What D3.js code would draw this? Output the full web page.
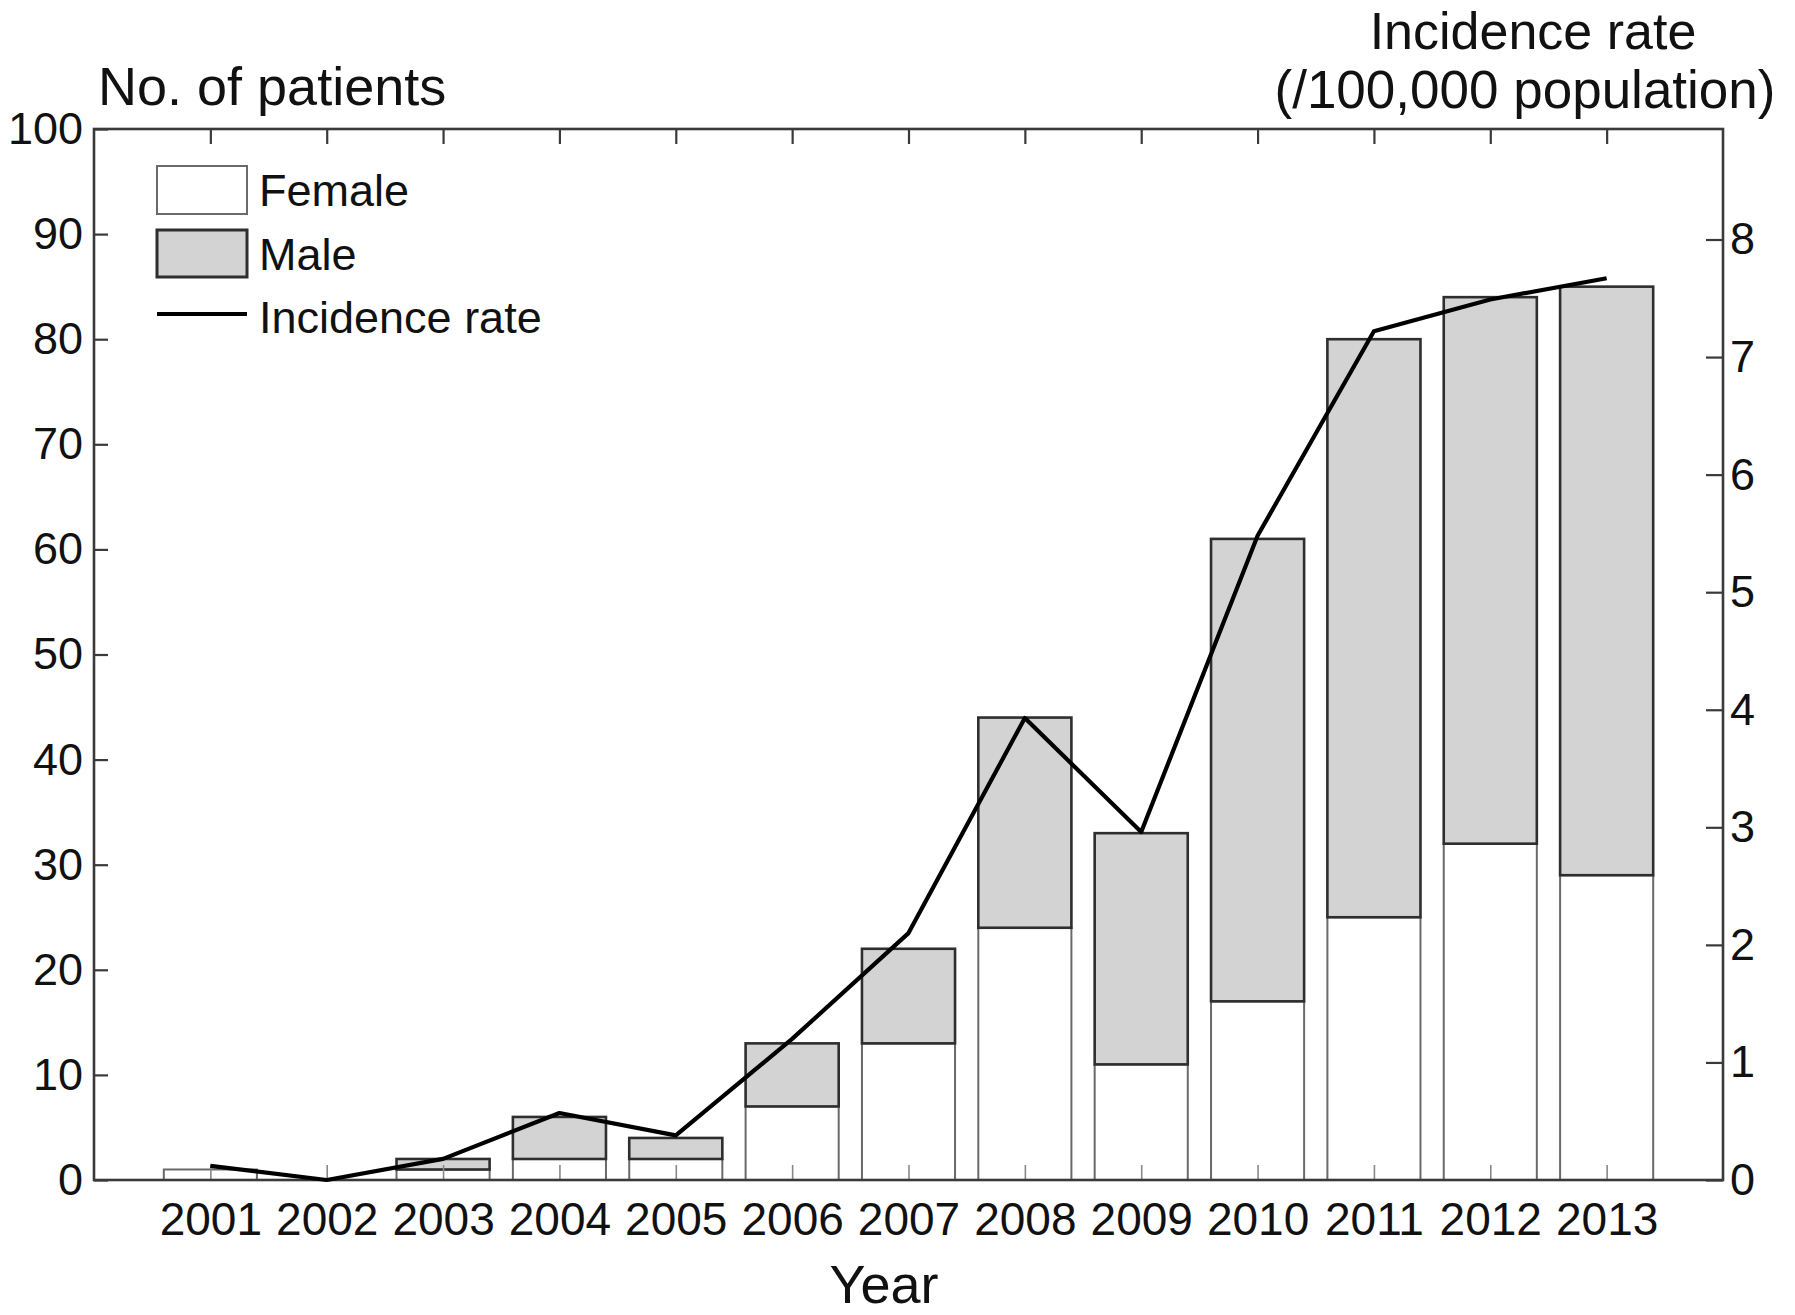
<!DOCTYPE html>
<html>
<head>
<meta charset="utf-8">
<script src="https://cdn.jsdelivr.net/npm/d3@7"></script>
<style>
  html, body { margin: 0; padding: 0; background: #fff; }
  svg { display: block; }
  text { font-family: "Liberation Sans", Arial, Helvetica, sans-serif; fill: #111; }
</style>
</head>
<body>
<svg id="chart" width="1795" height="1315"></svg>
<script>
// ---- data ----
const years = ["2001","2002","2003","2004","2005","2006","2007","2008","2009","2010","2011","2012","2013"];
const female = [1, 0, 1, 2, 2, 7, 13, 24, 11, 17, 25, 32, 29];
const male   = [0, 0, 1, 4, 2, 6, 9, 20, 22, 44, 55, 52, 56];
const incidence = [0.12, 0, 0.18, 0.57, 0.38, 1.2, 2.1, 3.93, 2.96, 5.48, 7.22, 7.49, 7.67];
const leftTicks = [0, 10, 20, 30, 40, 50, 60, 70, 80, 90, 100];
const rightTicks = [0, 1, 2, 3, 4, 5, 6, 7, 8];
const legendItems = ["Female", "Male", "Incidence rate"];

// ---- layout ----
const L = 94, R = 1723, T = 129, B = 1180;
const svg = d3.select("#chart");

const x = d3.scalePoint().domain(years).range([L, R]).padding(1);
const yL = d3.scaleLinear().domain([0, 100]).range([B, T]);
const yR = d3.scaleLinear().domain([0, 8.94]).range([B, T]);
const bw = x.step() * 0.8;

const rows = years.map((y, i) => ({ year: y, f: female[i], m: male[i], r: incidence[i] }));

// ---- bars ----
const bars = svg.append("g");
bars.selectAll("rect.female").data(rows).join("rect")
  .attr("class", "female")
  .attr("x", d => x(d.year) - bw / 2)
  .attr("width", bw)
  .attr("y", d => yL(d.f))
  .attr("height", d => yL(0) - yL(d.f))
  .attr("fill", "#ffffff")
  .attr("stroke", "#6a6a6a")
  .attr("stroke-width", 2);

bars.selectAll("rect.male").data(rows.filter(d => d.m > 0)).join("rect")
  .attr("class", "male")
  .attr("x", d => x(d.year) - bw / 2)
  .attr("width", bw)
  .attr("y", d => yL(d.f + d.m))
  .attr("height", d => yL(d.f) - yL(d.f + d.m))
  .attr("fill", "#d3d3d3")
  .attr("stroke", "#2e2e2e")
  .attr("stroke-width", 2.6);

// ---- axes frame ----
const axisColor = "#3a3a3a";
const leftAxis = d3.axisLeft(yL).tickValues(leftTicks).tickSize(-14).tickPadding(11).tickFormat(d3.format("d"));
const gl = svg.append("g").attr("transform", `translate(${L},0)`).call(leftAxis);

const rightAxis = d3.axisRight(yR).tickValues(rightTicks).tickSize(-17).tickPadding(7).tickFormat(d3.format("d"));
const gr = svg.append("g").attr("transform", `translate(${R},0)`).call(rightAxis);

const bottomAxis = d3.axisBottom(x).tickSize(-15).tickPadding(22);
const gb = svg.append("g").attr("transform", `translate(0,${B})`).call(bottomAxis);

const topAxis = d3.axisTop(x).tickSize(-15).tickFormat("");
const gt = svg.append("g").attr("transform", `translate(0,${T})`).call(topAxis);

[gl, gr, gb, gt].forEach(g => {
  g.select(".domain").remove();
  g.selectAll(".tick line").attr("stroke", axisColor).attr("stroke-width", 2.2);
  g.selectAll(".tick text").attr("font-size", 45).attr("fill", "#111")
    .attr("font-family", "'Liberation Sans', Arial, sans-serif");
});
gb.selectAll(".tick line").attr("stroke", "#888").attr("stroke-width", 1.6);
gb.selectAll(".tick text").attr("font-size", 46).attr("dy", "0.71em");

svg.append("rect")
  .attr("x", L).attr("y", T).attr("width", R - L).attr("height", B - T)
  .attr("fill", "none").attr("stroke", axisColor).attr("stroke-width", 2.6);

// ---- incidence line ----
const line = d3.line().x(d => x(d.year)).y(d => yR(d.r));
svg.append("path").datum(rows)
  .attr("d", line)
  .attr("fill", "none")
  .attr("stroke", "#000")
  .attr("stroke-width", 4.2)
  .attr("stroke-linejoin", "round");

// ---- titles ----
svg.append("text").attr("x", 98).attr("y", 105).attr("font-size", 54).text("No. of patients");
svg.append("text").attr("x", 1533).attr("y", 49).attr("font-size", 52).attr("text-anchor", "middle").text("Incidence rate");
svg.append("text").attr("x", 1525).attr("y", 108).attr("font-size", 53).attr("text-anchor", "middle").text("(/100,000 population)");
svg.append("text").attr("x", 884).attr("y", 1303).attr("font-size", 54).attr("text-anchor", "middle").text("Year");

// ---- legend ----
const lg = svg.append("g");
lg.append("rect").attr("x", 157).attr("y", 166).attr("width", 90).attr("height", 48)
  .attr("fill", "#fff").attr("stroke", "#6a6a6a").attr("stroke-width", 2);
lg.append("rect").attr("x", 157).attr("y", 230).attr("width", 90).attr("height", 47)
  .attr("fill", "#d3d3d3").attr("stroke", "#2e2e2e").attr("stroke-width", 3);
lg.append("line").attr("x1", 157).attr("x2", 247).attr("y1", 314).attr("y2", 314)
  .attr("stroke", "#000").attr("stroke-width", 4);
const legendY = [206, 270, 333];
lg.selectAll("text").data(legendItems).join("text")
  .attr("x", 259).attr("y", (d, i) => legendY[i]).attr("font-size", 45).text(d => d);
</script>
</body>
</html>
